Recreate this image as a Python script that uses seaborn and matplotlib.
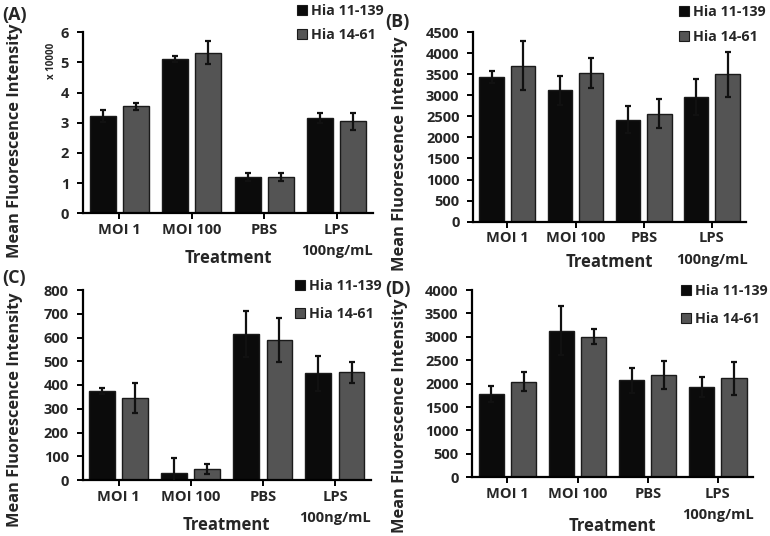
import matplotlib
matplotlib.use('Agg')
import matplotlib.pyplot as plt
from matplotlib.patches import Patch
import pandas as pd
import seaborn as sns

sns.set_style('white')
plt.rcParams['font.family'] = ['Open Sans', 'DejaVu Sans']
plt.rcParams['font.weight'] = 'bold'

treatments = ['MOI 1', 'MOI 100', 'PBS', 'LPS\n100ng/mL']
strains = ['Hia 11-139', 'Hia 14-61']
colors = ['#0b0b0b', '#545454']

# panel A is in units of x 10000
a_black = [3.22, 5.12, 1.20, 3.16]
a_black_err = [0.21, 0.10, 0.13, 0.16]
a_grey = [3.55, 5.33, 1.20, 3.05]
a_grey_err = [0.12, 0.37, 0.12, 0.28]

b_black = [3430, 3115, 2415, 2950]
b_black_err = [150, 335, 320, 425]
b_grey = [3700, 3525, 2565, 3500]
b_grey_err = [580, 350, 340, 535]

c_black = [376, 31, 615, 449]
c_black_err = [13, 60, 98, 75]
c_grey = [344, 46, 589, 453]
c_grey_err = [63, 21, 94, 45]

d_black = [1778, 3130, 2070, 1935]
d_black_err = [172, 525, 272, 213]
d_grey = [2040, 3005, 2178, 2112]
d_grey_err = [200, 168, 298, 348]

fig = plt.figure(figsize=(7.7, 5.36), dpi=100)
W, H = 770, 536


def add_ax(left, top, right, bottom):
    return fig.add_axes([left / W, 1 - bottom / H, (right - left) / W, (bottom - top) / H])


def draw_panel(ax, black, black_err, grey, grey_err, ymax, step, letter,
               ylab_x, ylab_y, leg_xy, leg_space, letter_xy):
    df = pd.DataFrame({
        'Treatment': treatments * 2,
        'Strain': [strains[0]] * 4 + [strains[1]] * 4,
        'MFI': black + grey,
    })
    sns.barplot(data=df, x='Treatment', y='MFI', hue='Strain', palette=colors,
                errorbar=None, width=0.92, gap=0.22, edgecolor='#1a1a1a',
                linewidth=1.0, saturation=1, legend=False, ax=ax)
    for cont, errs in zip(ax.containers, [black_err, grey_err]):
        xs = [b.get_x() + b.get_width() / 2 for b in cont]
        ys = [b.get_height() for b in cont]
        ax.errorbar(xs, ys, yerr=errs, fmt='none', ecolor='#111111',
                    elinewidth=1.6, capsize=2.2, capthick=1.6, zorder=5)
    ax.set_xlim(-0.5, 3.5)
    ax.set_ylim(0, ymax)
    ax.set_yticks([i * step for i in range(int(round(ymax / step)) + 1)])
    ax.yaxis.set_major_formatter(matplotlib.ticker.FuncFormatter(lambda v, p: f'{v:g}'))
    sns.despine(ax=ax)
    for s in ['left', 'bottom']:
        ax.spines[s].set_linewidth(1.6)
        ax.spines[s].set_color('black')
    ax.tick_params(axis='both', which='major', direction='out', length=4, width=1.4,
                   color='black', labelsize=10.5, pad=3, left=True, bottom=True)
    ax.tick_params(axis='y', pad=6)
    for t in ax.get_xticklabels():
        t.set_fontweight('bold')
        t.set_linespacing(1.65)
    for t in ax.get_yticklabels():
        t.set_fontweight('bold')
    ax.set_xlabel('Treatment', fontsize=12, fontweight='bold')
    ax.xaxis.label.set_va('center')
    ax.set_ylabel('Mean Fluorescence Intensity', fontsize=11.8, fontweight='bold')
    ax.yaxis.label.set_va('center')
    ax.yaxis.set_label_coords(ylab_x, ylab_y)
    handles = [Patch(facecolor=c, edgecolor='#1a1a1a', linewidth=0.8) for c in colors]
    fig.legend(handles, strains, loc='upper left', bbox_to_anchor=(leg_xy[0] / W, 1 - leg_xy[1] / H),
               frameon=False, handlelength=0.7, handleheight=0.7,
               handletextpad=0.3, labelspacing=leg_space, borderpad=0, borderaxespad=0,
               prop={'weight': 'bold', 'size': 10.3})
    fig.text(letter_xy[0] / W, 1 - letter_xy[1] / H, letter, fontsize=13,
             fontweight='bold', ha='left', va='center')


ax_a = add_ax(83, 32.3, 373, 213.3)
draw_panel(ax_a, a_black, a_black_err, a_grey, a_grey_err, 6, 1, '(A)',
           -68 / 290, 0.40, (297, 4), 0.7, (2, 15))
ax_a.xaxis.set_label_coords(0.5, -45 / 181)
ax_a.text(-31 / 290, 0.84, 'x 10000', transform=ax_a.transAxes, rotation=90,
          fontsize=7, fontweight='bold', ha='center', va='center')

ax_b = add_ax(473.3, 32, 746, 221.7)
draw_panel(ax_b, b_black, b_black_err, b_grey, b_grey_err, 4500, 500, '(B)',
           -73 / 273, 0.36, (679, 5), 0.8, (385, 22))
ax_b.xaxis.set_label_coords(0.5, -40 / 190)

ax_c = add_ax(82.7, 290, 371, 480)
draw_panel(ax_c, c_black, c_black_err, c_grey, c_grey_err, 800, 100, '(C)',
           -68 / 288, 0.37, (295, 279), 0.95, (2, 278))
ax_c.xaxis.set_label_coords(0.5, -45 / 190)

ax_d = add_ax(472.3, 290, 753, 477.3)
draw_panel(ax_d, d_black, d_black_err, d_grey, d_grey_err, 4000, 500, '(D)',
           -72 / 281, 0.33, (681, 284), 0.95, (385, 289))
ax_d.xaxis.set_label_coords(0.5, -49 / 187)

plt.savefig('out.png', dpi=100)
